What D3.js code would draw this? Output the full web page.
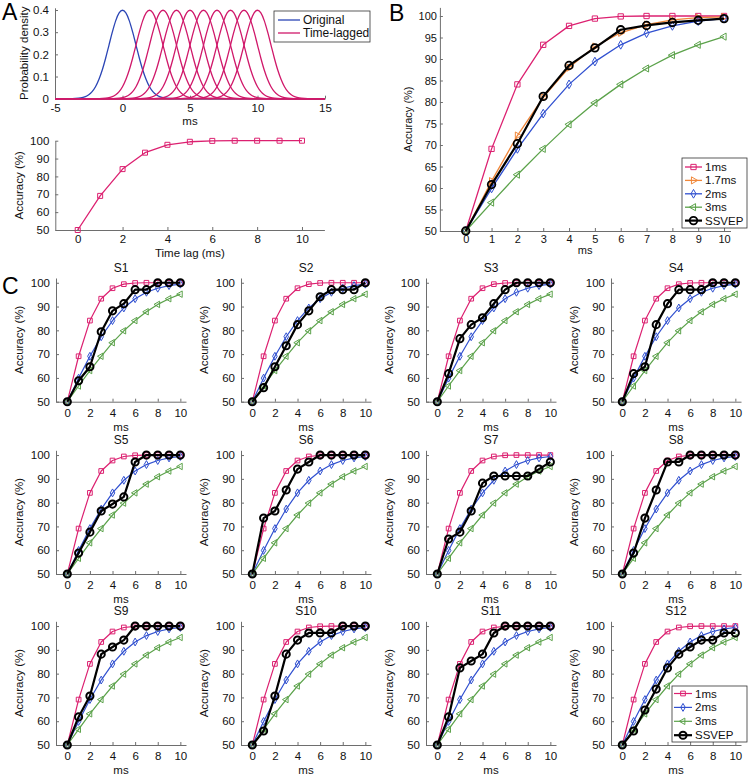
<!DOCTYPE html>
<html><head><meta charset="utf-8">
<script src="https://cdn.jsdelivr.net/npm/d3@7"></script>
<style>
body{margin:0;background:#fff}
svg{display:block}
text{font-family:"Liberation Sans",Arial,Helvetica,sans-serif}
</style>
</head><body>
<svg id="c" width="751" height="776"></svg>
<script>
// ---------------- DATA ----------------
const lagMs = [0,1,2,3,4,5,6,7,8,9,10];
const acc1ms  = [50, 69.1, 84.1, 93.3, 97.7, 99.4, 99.9, 100, 100, 100, 100];
const acc17ms = [50, 61.6, 72.2, 81.1, 88.0, 92.9, 96.1, 98.0, 99.1, 99.6, 99.8];
const acc2ms  = [50, 59.9, 69.1, 77.3, 84.1, 89.4, 93.3, 96.0, 97.7, 98.8, 99.4];
const acc3ms  = [50, 56.6, 63.1, 69.1, 74.8, 79.8, 84.1, 87.8, 90.9, 93.3, 95.2];
const ssvepAvg = [50, 60.8, 70.3, 81.3, 88.5, 92.6, 96.8, 97.8, 98.5, 99.0, 99.4];

const ssvepS1  = [50, 58.8, 64.7, 79.4, 88.2, 91.2, 97.1, 97.1, 100, 100, 100];
const ssvepS2  = [50, 55.9, 64.7, 73.5, 82.4, 88.2, 94.1, 97.1, 97.1, 97.1, 100];
const ssvepS3  = [50, 61.8, 76.5, 82.4, 85.3, 91.2, 97.1, 100, 100, 100, 100];
const ssvepS4  = [50, 61.8, 64.7, 82.4, 91.2, 97.1, 97.1, 97.1, 100, 100, 100];
const ssvepS5  = [50, 58.8, 67.6, 76.5, 79.4, 82.4, 97.1, 100, 100, 100, 100];
const ssvepS6  = [50, 73.5, 76.5, 85.3, 94.1, 97.1, 100, 100, 100, 100, 100];
const ssvepS7  = [50, 64.7, 67.6, 76.5, 88.2, 91.2, 91.2, 91.2, 91.2, 94.1, 97.1];
const ssvepS8  = [50, 58.8, 73.5, 85.3, 97.1, 97.1, 100, 100, 100, 100, 100];
const ssvepS9  = [50, 61.8, 70.6, 88.2, 91.2, 94.1, 100, 100, 100, 100, 100];
const ssvepS10 = [50, 55.9, 70.6, 88.2, 94.1, 97.1, 97.1, 97.1, 100, 100, 100];
const ssvepS11 = [50, 61.8, 82.4, 85.3, 88.2, 97.1, 100, 100, 100, 100, 100];
const ssvepS12 = [50, 55.9, 64.7, 73.5, 82.4, 88.2, 91.2, 94.1, 94.1, 97.1, 97.1];
const subjectNames = ["S1","S2","S3","S4","S5","S6","S7","S8","S9","S10","S11","S12"];
const subjectSeries = [ssvepS1,ssvepS2,ssvepS3,ssvepS4,ssvepS5,ssvepS6,ssvepS7,ssvepS8,ssvepS9,ssvepS10,ssvepS11,ssvepS12];

// standard normal density profile (offset from mean, density)
const pdfOffsets = [-4,-3.75,-3.5,-3.25,-3,-2.75,-2.5,-2.25,-2,-1.75,-1.5,-1.25,-1,-0.75,-0.5,-0.25,0,0.25,0.5,0.75,1,1.25,1.5,1.75,2,2.25,2.5,2.75,3,3.25,3.5,3.75,4];
const pdfValues  = [0.0001,0.0004,0.0009,0.0020,0.0044,0.0091,0.0175,0.0317,0.0540,0.0863,0.1295,0.1826,0.2420,0.3011,0.3521,0.3867,0.3989,0.3867,0.3521,0.3011,0.2420,0.1826,0.1295,0.0863,0.0540,0.0317,0.0175,0.0091,0.0044,0.0020,0.0009,0.0004,0.0001];
const originalMeans = [0];
const laggedMeans = [2,3,4,5,6,7,8,9,10];

const xTicksA1 = [-5,0,5,10,15];
const yTicksA1 = [0,0.1,0.2,0.3,0.4];
const xTicksA2 = [0,2,4,6,8,10];
const yTicksA2 = [50,60,70,80,90,100];
const xTicksB = [0,1,2,3,4,5,6,7,8,9,10];
const yTicksB = [50,55,60,65,70,75,80,85,90,95,100];
const xTicksC = [0,2,4,6,8,10];
const yTicksC = [50,60,70,80,90,100];

// ---------------- STYLE ----------------
const FONT = '"Liberation Sans",Arial,Helvetica,sans-serif';
const C1 = "#dc2070", C17 = "#f0873a", C2 = "#3050d0", C3 = "#5ba24a", CK = "#000000";
const AXC = "#6e6e6e";
const SYM = {
  sq:  {type: d3.symbolSquare, rot: 0},
  tr:  {type: d3.symbolTriangle, rot: 90},
  di:  {type: d3.symbolDiamond, rot: 0},
  tl:  {type: d3.symbolTriangle, rot: -90},
  ci:  {type: d3.symbolCircle, rot: 0}
};

const svg = d3.select("#c");

function drawAxes(g, x, y, o) {
  const ax = g.append("g").attr("transform", `translate(0,${y.range()[0]})`)
    .call(d3.axisBottom(x).tickValues(o.xt).tickFormat(d => String(d))
      .tickSizeInner(-3).tickSizeOuter(0).tickPadding(o.xpad));
  const ay = g.append("g").attr("transform", `translate(${x.range()[0]},0)`)
    .call(d3.axisLeft(y).tickValues(o.yt).tickFormat(d => String(d))
      .tickSizeInner(-3).tickSizeOuter(0).tickPadding(o.ypad));
  [ax, ay].forEach(a => {
    a.attr("font-family", FONT).attr("font-size", o.fs);
    a.select(".domain").attr("stroke", AXC).attr("stroke-width", 1);
    a.selectAll(".tick line").attr("stroke", AXC);
    a.selectAll(".tick text").attr("fill", "#111");
  });
  const [xl, xr] = x.range();
  const [yb, yt] = y.range();
  if (o.xlabel) g.append("text").attr("x", (xl + xr) / 2).attr("y", yb + o.xlabOff)
    .attr("text-anchor", "middle").attr("font-size", o.lfs).attr("fill", "#111").text(o.xlabel);
  if (o.ylabel) g.append("text").attr("transform", `translate(${xl + o.ylabOff},${(yb + yt) / 2}) rotate(-90)`)
    .attr("text-anchor", "middle").attr("font-size", o.lfs).attr("fill", "#111").text(o.ylabel);
}

function drawSeries(g, x, y, xs, ys, color, sym, lw, msize, mw) {
  g.append("path").datum(ys)
    .attr("d", d3.line().x((d, i) => x(xs[i])).y(d => y(d)))
    .attr("fill", "none").attr("stroke", color).attr("stroke-width", lw).attr("stroke-linejoin", "round");
  g.selectAll(null).data(ys).join("path")
    .attr("transform", (d, i) => `translate(${x(xs[i])},${y(d)}) rotate(${sym.rot})`)
    .attr("d", d3.symbol(sym.type, msize)())
    .attr("fill", "none").attr("stroke", color).attr("stroke-width", mw);
}

function drawLegend(g, box, entries, o) {
  g.append("rect").attr("x", box.x).attr("y", box.y).attr("width", box.w).attr("height", box.h)
    .attr("fill", "#fff").attr("stroke", "#333").attr("stroke-width", 0.8);
  entries.forEach((e, i) => {
    const yy = box.y + o.first + i * o.step;
    g.append("line").attr("x1", box.x + o.l1).attr("x2", box.x + o.l2).attr("y1", yy).attr("y2", yy)
      .attr("stroke", e.color).attr("stroke-width", e.lw);
    if (e.sym) g.append("path").attr("transform", `translate(${box.x + (o.l1 + o.l2) / 2},${yy}) rotate(${e.sym.rot})`)
      .attr("d", d3.symbol(e.sym.type, e.ms)()).attr("fill", "none").attr("stroke", e.color).attr("stroke-width", e.mw);
    g.append("text").attr("x", box.x + o.tx).attr("y", yy).attr("dy", "0.35em")
      .attr("font-size", o.fs).attr("fill", "#111").text(e.label);
  });
}

function panelLetter(t, px, py) {
  svg.append("text").attr("x", px).attr("y", py).attr("font-size", 23).attr("fill", "#000").text(t);
}

// ---------------- PANEL A (top) ----------------
{
  const g = svg.append("g");
  const x = d3.scaleLinear().domain([-5, 15]).range([55, 325]);
  const y = d3.scaleLinear().domain([0, 0.41]).range([98.7, 7.8]);
  drawAxes(g, x, y, {xt: xTicksA1, yt: yTicksA1, xpad: 5.5, ypad: 6, fs: 11.5,
    xlabel: "ms", xlabOff: 26, ylabel: "Probability density", ylabOff: -27, lfs: 11.5});
  const curve = d3.line().x(d => x(d[0])).y(d => y(d[1])).curve(d3.curveMonotoneX);
  const pts = m => [[-5, 0]].concat(pdfOffsets.map((o, i) => [m + o, pdfValues[i]])).concat([[15, 0]]);
  originalMeans.forEach(m => g.append("path").attr("d", curve(pts(m))).attr("fill", "none")
    .attr("stroke", "#2b45b5").attr("stroke-width", 1.3));
  laggedMeans.forEach(m => g.append("path").attr("d", curve(pts(m))).attr("fill", "none")
    .attr("stroke", "#d0186a").attr("stroke-width", 1.3));
  drawLegend(g, {x: 274, y: 11, w: 96, h: 31}, [
    {label: "Original", color: "#2b45b5", lw: 1.3},
    {label: "Time-lagged", color: "#d0186a", lw: 1.3}
  ], {first: 9, step: 13, l1: 4, l2: 26, tx: 29, fs: 12});
  panelLetter("A", 2, 20);
}

// ---------------- PANEL A (bottom) ----------------
{
  const g = svg.append("g");
  const x = d3.scaleLinear().domain([-1, 11]).range([55.3, 324.4]);
  const y = d3.scaleLinear().domain([50, 100]).range([230, 140.7]);
  drawAxes(g, x, y, {xt: xTicksA2, yt: yTicksA2, xpad: 5, ypad: 6, fs: 11.5,
    xlabel: "Time lag (ms)", xlabOff: 27, ylabel: "Accuracy (%)", ylabOff: -32, lfs: 11.5});
  drawSeries(g, x, y, lagMs, acc1ms, C1, SYM.sq, 1.3, 25, 1);
}

// ---------------- PANEL B ----------------
{
  const g = svg.append("g");
  const x = d3.scaleLinear().domain([-1, 10.25]).range([439.9, 730.5]);
  const y = d3.scaleLinear().domain([50, 102]).range([231, 7.4]);
  drawAxes(g, x, y, {xt: xTicksB, yt: yTicksB, xpad: 4, ypad: 3, fs: 11,
    xlabel: "ms", xlabOff: 23, ylabel: "Accuracy (%)", ylabOff: -28, lfs: 11});
  drawSeries(g, x, y, lagMs, acc1ms, C1, SYM.sq, 1.3, 28, 1);
  drawSeries(g, x, y, lagMs, acc17ms, C17, SYM.tr, 1.3, 22, 1);
  drawSeries(g, x, y, lagMs, acc2ms, C2, SYM.di, 1.3, 22, 1);
  drawSeries(g, x, y, lagMs, acc3ms, C3, SYM.tl, 1.3, 22, 1);
  drawSeries(g, x, y, lagMs, ssvepAvg, CK, SYM.ci, 2.2, 45, 1.8);
  drawLegend(g, {x: 682, y: 158, w: 65, h: 70}, [
    {label: "1ms", color: C1, lw: 1.3, sym: SYM.sq, ms: 28, mw: 1},
    {label: "1.7ms", color: C17, lw: 1.3, sym: SYM.tr, ms: 22, mw: 1},
    {label: "2ms", color: C2, lw: 1.3, sym: SYM.di, ms: 22, mw: 1},
    {label: "3ms", color: C3, lw: 1.3, sym: SYM.tl, ms: 22, mw: 1},
    {label: "SSVEP", color: CK, lw: 2.2, sym: SYM.ci, ms: 45, mw: 1.8}
  ], {first: 9, step: 13.4, l1: 3, l2: 20, tx: 23, fs: 11.5});
  panelLetter("B", 389, 21);
}

// ---------------- PANEL C ----------------
{
  const colLeft = [56, 241, 426, 611];
  const rowBottom = [401.7, 574, 745];
  subjectSeries.forEach((ser, k) => {
    const r = Math.floor(k / 4), c = k % 4;
    const g = svg.append("g");
    const x = d3.scaleLinear().domain([-1, 10.5]).range([colLeft[c], colLeft[c] + 130]);
    const y = d3.scaleLinear().domain([50, 102]).range([rowBottom[r], rowBottom[r] - 123.7]);
    drawAxes(g, x, y, {xt: xTicksC, yt: yTicksC, xpad: 7, ypad: 6, fs: 11.5,
      xlabel: "ms", xlabOff: 29, ylabel: "Accuracy (%)", ylabOff: -33, lfs: 11.5});
    drawSeries(g, x, y, lagMs, acc1ms, C1, SYM.sq, 1.2, 22, 1);
    drawSeries(g, x, y, lagMs, acc2ms, C2, SYM.di, 1.2, 18, 1);
    drawSeries(g, x, y, lagMs, acc3ms, C3, SYM.tl, 1.2, 18, 1);
    drawSeries(g, x, y, lagMs, ser, CK, SYM.ci, 2.2, 40, 2);
    g.append("text").attr("x", colLeft[c] + 65).attr("y", y(102) - 6)
      .attr("text-anchor", "middle").attr("font-size", 12).attr("fill", "#111").text(subjectNames[k]);
    if (k === 11) {
      drawLegend(g, {x: 672, y: 686, w: 75, h: 56}, [
        {label: "1ms", color: C1, lw: 1.2, sym: SYM.sq, ms: 22, mw: 1},
        {label: "2ms", color: C2, lw: 1.2, sym: SYM.di, ms: 18, mw: 1},
        {label: "3ms", color: C3, lw: 1.2, sym: SYM.tl, ms: 18, mw: 1},
        {label: "SSVEP", color: CK, lw: 2.2, sym: SYM.ci, ms: 40, mw: 2}
      ], {first: 7.5, step: 13.9, l1: 2, l2: 20, tx: 23, fs: 11.5});
    }
  });
  panelLetter("C", 2, 294);
}
</script>
</body></html>
